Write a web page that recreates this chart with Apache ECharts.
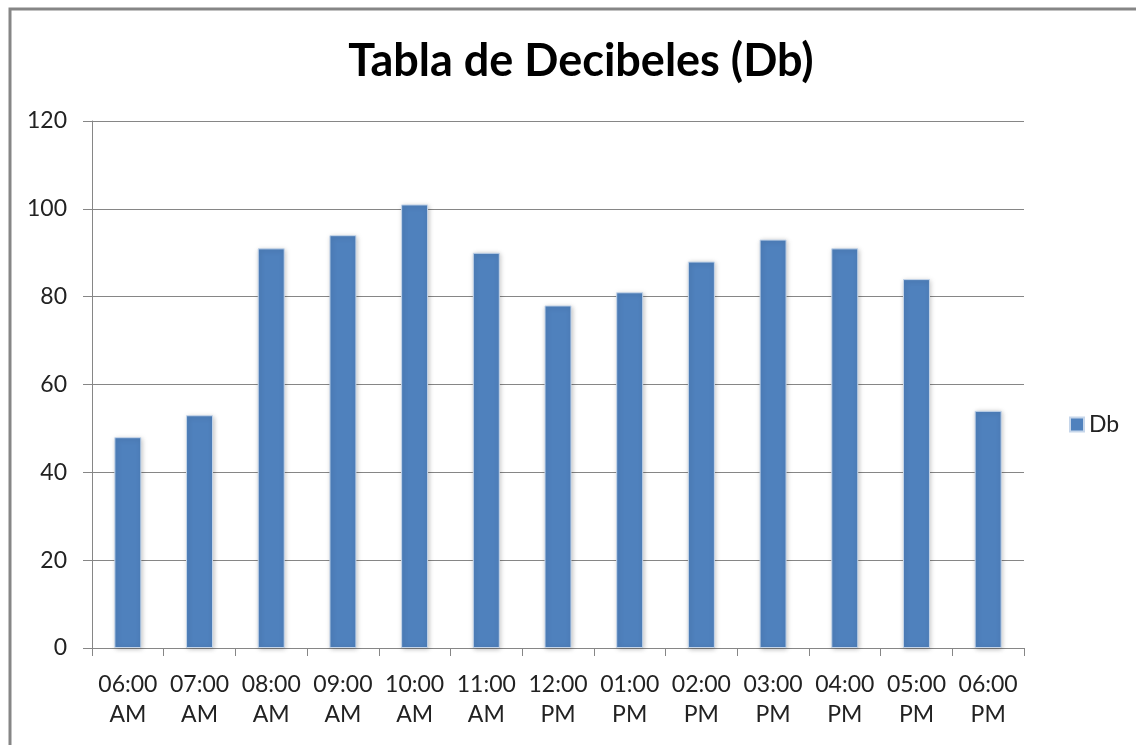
<!DOCTYPE html>
<html>
<head>
<meta charset="utf-8">
<script src="https://cdn.jsdelivr.net/npm/echarts@6/dist/echarts.min.js"></script>
<style>
  html, body { margin: 0; padding: 0; background: #fff; }
  #chart { width: 1136px; height: 745px; }
</style>
</head>
<body>
<div id="chart"></div>
<script>
// horas del día y niveles medidos
var horas = ["06:00\nAM", "07:00\nAM", "08:00\nAM", "09:00\nAM", "10:00\nAM", "11:00\nAM",
  "12:00\nPM", "01:00\nPM", "02:00\nPM", "03:00\nPM", "04:00\nPM", "05:00\nPM", "06:00\nPM"];
var decibeles = [48, 53, 91, 94, 101, 90, 78, 81, 88, 93, 91, 84, 54];
var nombreSerie = "Db";

var fuente = "Lato, Calibri, 'Open Sans', sans-serif";
var gris = "#868686";

var myChart = echarts.init(document.getElementById("chart"));

myChart.setOption({
  animation: false,
  title: {
    text: "Tabla de Decibeles (Db)",
    left: 576,
    textAlign: "center",
    top: 34,
    textStyle: {
      fontFamily: fuente,
      fontSize: 45,
      fontWeight: "bold",
      color: "#000"
    }
  },
  graphic: [
    {
      type: "rect",
      shape: { x: 10, y: 9, width: 1300, height: 900 },
      style: { fill: "none", stroke: gris, lineWidth: 3 },
      silent: true
    }
  ],
  legend: {
    data: [nombreSerie],
    left: 1064,
    top: 408,
    itemWidth: 14,
    itemHeight: 14,
    itemGap: 6,
    icon: "rect",
    textStyle: { fontFamily: fuente, fontSize: 23, color: "#222" }
  },
  grid: {
    left: 92,
    right: 112,
    top: 121,
    bottom: 97
  },
  xAxis: {
    type: "category",
    data: horas,
    axisLine: { lineStyle: { color: gris, width: 1 } },
    axisTick: { show: true, alignWithLabel: false, length: 8, lineStyle: { color: gris } },
    axisLabel: {
      interval: 0,
      margin: 22,
      fontFamily: fuente,
      fontSize: 23,
      lineHeight: 30,
      color: "#222"
    }
  },
  yAxis: {
    type: "value",
    min: 0,
    max: 120,
    interval: 20,
    axisLine: { show: true, lineStyle: { color: gris, width: 1 } },
    axisTick: { show: true, length: 9, lineStyle: { color: gris } },
    splitLine: { lineStyle: { color: gris, width: 1 } },
    axisLabel: {
      margin: 25,
      fontFamily: fuente,
      fontSize: 23,
      color: "#222"
    }
  },
  series: [
    {
      name: nombreSerie,
      type: "bar",
      data: decibeles,
      barWidth: 27,
      itemStyle: {
        color: "#4F81BD",
        borderColor: "#c6d6ea",
        borderWidth: 1,
        shadowColor: "rgba(0,0,0,0.25)",
        shadowBlur: 5,
        shadowOffsetX: 1,
        shadowOffsetY: 1
      }
    }
  ]
});
</script>
</body>
</html>
